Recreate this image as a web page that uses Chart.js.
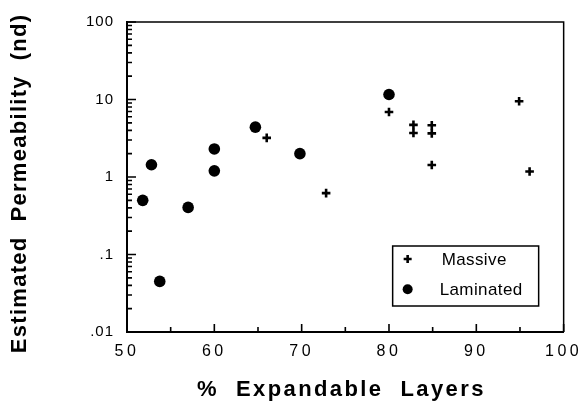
<!DOCTYPE html>
<html>
<head>
<meta charset="utf-8">
<script src="https://cdn.jsdelivr.net/npm/chart.js@4/dist/chart.umd.min.js"></script>
<style>
  html, body { margin: 0; padding: 0; background: #fff; }
  #c { display: block; }
</style>
</head>
<body>
<canvas id="c" width="587" height="402"></canvas>
<script>
// ---- data ----
const massiveX = [66, 72.8, 80, 82.8, 82.8, 84.9, 84.9, 84.9, 94.9, 96.1];
const massiveY = [3.2, 0.62, 6.9, 4.7, 3.7, 4.65, 3.65, 1.43, 9.5, 1.18];
const laminatedX = [51.8, 52.8, 53.75, 57, 60, 60, 64.7, 69.8, 80];
const laminatedY = [0.5, 1.44, 0.045, 0.405, 2.3, 1.2, 4.4, 2.0, 11.6];

const seriesNames = ['Massive', 'Laminated'];
const xTickValues = [50, 60, 70, 80, 90, 100];
const xTickLabels = ['50', '60', '70', '80', '90', '100'];
const xMinorValues = [55, 65, 75, 85, 95];
const yTickValues = [0.01, 0.1, 1, 10, 100];
const yTickLabels = ['.01', '.1', '1', '10', '100'];
const yMinorMultipliers = [2, 3, 4, 5, 6, 7, 8, 9];
const xTitle = '%  Expandable  Layers';
const yTitle = 'Estimated  Permeability  (nd)';

const FONT = "'Liberation Sans', Arial, Helvetica, sans-serif";

function toPoints(xs, ys) { return xs.map((x, i) => ({ x: x, y: ys[i] })); }

const decorPlugin = {
  id: 'decor',
  beforeDraw(chart) {
    const ctx = chart.ctx;
    ctx.save();
    ctx.fillStyle = '#fff';
    ctx.fillRect(0, 0, chart.width, chart.height);
    ctx.restore();
    ctx.letterSpacing = '1px';   // y tick labels
  },
  afterDatasetsDraw(chart) {
    chart.ctx.letterSpacing = '3.5px'; // x tick labels
  },
  afterDraw(chart) {
    const ctx = chart.ctx;
    const ca = chart.chartArea;
    const xs = chart.scales.x, ys = chart.scales.y;
    ctx.save();
    ctx.letterSpacing = '0px';
    ctx.strokeStyle = '#000';
    ctx.fillStyle = '#000';
    // top and right frame
    ctx.lineWidth = 1.5;
    ctx.beginPath();
    ctx.moveTo(ca.left, ca.top);
    ctx.lineTo(ca.right, ca.top);
    ctx.lineTo(ca.right, ca.bottom);
    ctx.stroke();
    // inward tick marks on the left axis
    ctx.lineWidth = 1.6;
    ctx.beginPath();
    yTickValues.forEach(v => {
      const p = ys.getPixelForValue(v);
      ctx.moveTo(ca.left, p); ctx.lineTo(ca.left + 9, p);
    });
    yTickValues.slice(0, -1).forEach(base => {
      yMinorMultipliers.forEach(m => {
        const p = ys.getPixelForValue(base * m);
        ctx.moveTo(ca.left, p); ctx.lineTo(ca.left + 5, p);
      });
    });
    // inward tick marks on the bottom axis
    xTickValues.forEach(v => {
      const p = xs.getPixelForValue(v);
      ctx.moveTo(p, ca.bottom); ctx.lineTo(p, ca.bottom - 8);
    });
    xMinorValues.forEach(v => {
      const p = xs.getPixelForValue(v);
      ctx.moveTo(p, ca.bottom); ctx.lineTo(p, ca.bottom - 5);
    });
    ctx.stroke();

    // axis titles
    ctx.font = 'bold 22px ' + FONT;
    ctx.letterSpacing = '2.4px';
    ctx.textAlign = 'left';
    ctx.textBaseline = 'alphabetic';
    ctx.fillText(xTitle, ca.left + 70, ca.bottom + 64);

    ctx.save();
    ctx.letterSpacing = '1.3px';
    ctx.translate(26, (ca.top + ca.bottom) / 2 + 7);
    ctx.rotate(-Math.PI / 2);
    ctx.textAlign = 'center';
    ctx.fillText(yTitle, 0.6, 0);
    ctx.restore();

    // legend box inside the plot area
    const bx = ca.right - 171, by = ca.bottom - 86, bw = 146, bh = 60;
    ctx.letterSpacing = '0px';
    ctx.lineWidth = 1.5;
    ctx.strokeRect(bx, by, bw, bh);
    ctx.font = '17px ' + FONT;
    ctx.letterSpacing = '0.4px';
    ctx.textAlign = 'left';
    chart.data.datasets.forEach((ds, i) => {
      const cy = by + 13 + i * 30.3;
      const mx = bx + 15;
      ctx.fillStyle = '#000';
      ctx.strokeStyle = '#000';
      ctx.lineWidth = ds.borderWidth || 0;
      const opts = { pointStyle: ds.pointStyle, rotation: 0, radius: ds.pointStyle === 'circle' ? 5 : 4, borderWidth: ds.borderWidth || 0 };
      if (Chart.helpers && Chart.helpers.drawPoint) {
        Chart.helpers.drawPoint(ctx, opts, mx, cy);
      } else {
        ctx.beginPath();
        if (ds.pointStyle === 'circle') { ctx.arc(mx, cy, 5, 0, Math.PI * 2); ctx.fill(); }
        else { ctx.moveTo(mx - 4, cy); ctx.lineTo(mx + 4, cy); ctx.moveTo(mx, cy - 4); ctx.lineTo(mx, cy + 4); ctx.stroke(); }
      }
      ctx.fillText(ds.label, bx + (i === 0 ? 49 : 47), cy + 6);
    });
    ctx.restore();
    ctx.letterSpacing = '0px';
  }
};

new Chart(document.getElementById('c'), {
  type: 'scatter',
  data: {
    datasets: [
      {
        label: seriesNames[0],
        data: toPoints(massiveX, massiveY),
        pointStyle: 'cross',
        pointRadius: 4.3,
        borderWidth: 2.6,
        pointBorderWidth: 2.6,
        borderColor: '#000',
        backgroundColor: '#000'
      },
      {
        label: seriesNames[1],
        data: toPoints(laminatedX, laminatedY),
        pointStyle: 'circle',
        pointRadius: 5.8,
        borderWidth: 0,
        pointBorderWidth: 0,
        borderColor: '#000',
        backgroundColor: '#000'
      }
    ]
  },
  options: {
    responsive: false,
    animation: false,
    devicePixelRatio: 1,
    layout: { padding: { top: 19, right: 20, left: 0, bottom: 0 } },
    plugins: { legend: { display: false }, tooltip: { enabled: false } },
    scales: {
      x: {
        type: 'linear',
        position: 'bottom',
        min: 50, max: 100,
        afterFit(scale) { scale.height = 70; },
        afterBuildTicks(scale) { scale.ticks = xTickValues.map(v => ({ value: v })); },
        grid: { display: false, drawTicks: false },
        border: { display: true, color: '#000', width: 2 },
        title: { display: false },
        ticks: {
          z: 1,
          autoSkip: false,
          maxRotation: 0,
          padding: 10,
          color: '#000',
          font: { family: FONT, size: 16, lineHeight: 1.2 },
          callback: (v) => xTickLabels[xTickValues.indexOf(v)]
        }
      },
      y: {
        type: 'logarithmic',
        position: 'left',
        min: 0.01, max: 100,
        afterFit(scale) { scale.width = 127; },
        afterBuildTicks(scale) { scale.ticks = yTickValues.map(v => ({ value: v })); },
        grid: { display: false, drawTicks: false },
        border: { display: true, color: '#000', width: 2 },
        title: { display: false },
        ticks: {
          z: 0,
          autoSkip: false,
          padding: 13,
          color: '#000',
          font: { family: FONT, size: 15, lineHeight: 1.2 },
          callback: (v) => yTickLabels[yTickValues.indexOf(v)]
        }
      }
    }
  },
  plugins: [decorPlugin]
});
</script>
</body>
</html>
